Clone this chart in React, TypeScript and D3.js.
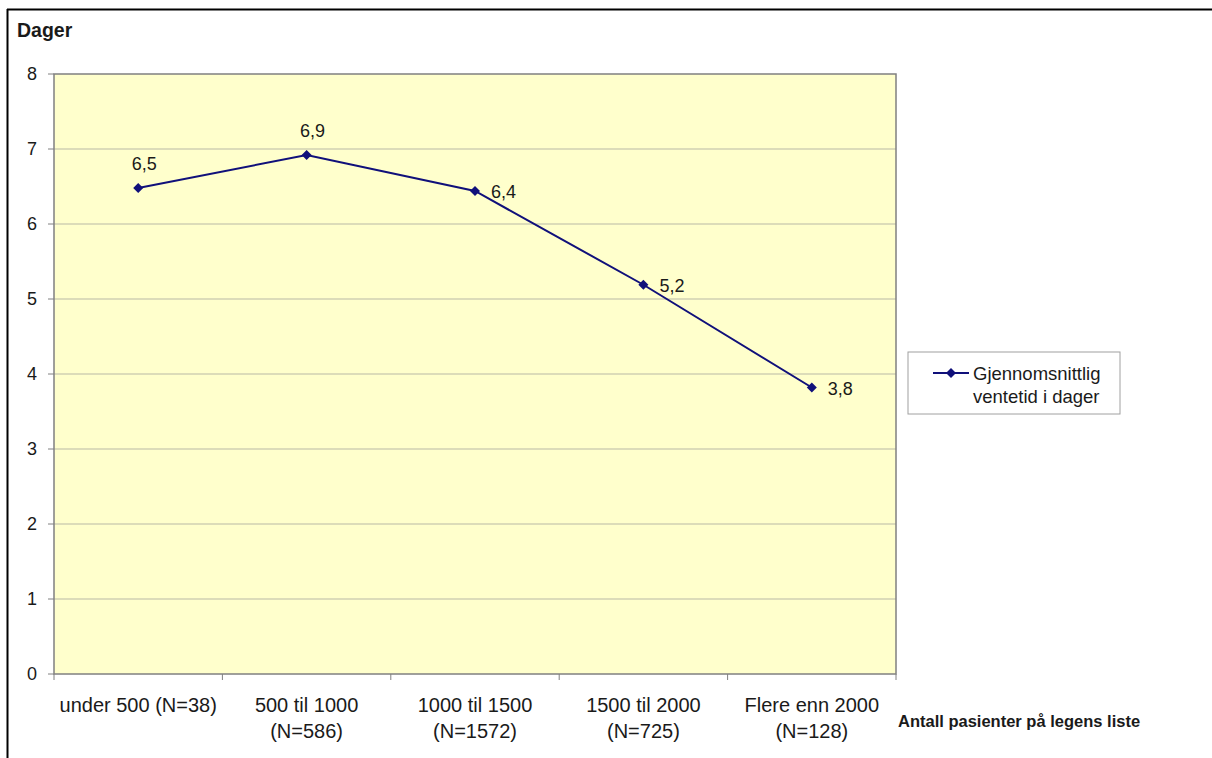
import React from 'react';
import * as d3 from 'd3';

// Gjennomsnittlig ventetid per listestørrelse
const categories = [
  ['under 500 (N=38)'],
  ['500 til 1000', '(N=586)'],
  ['1000 til 1500', '(N=1572)'],
  ['1500 til 2000', '(N=725)'],
  ['Flere enn 2000', '(N=128)'],
];
const waitDays = [6.48, 6.92, 6.44, 5.19, 3.82];
const labelAbove = [true, true, false, false, false];
const yTicks = [0, 1, 2, 3, 4, 5, 6, 7, 8];
const seriesName = ['Gjennomsnittlig', 'ventetid i dager'];

const FONT = '"Liberation Sans", Arial, sans-serif';
const TEXT = '#1a1a1a';
const NAVY = '#10107a';

const App = () => {
  const width = 1212;
  const height = 758;
  const plot = { left: 54, right: 896, top: 74, bottom: 674 };

  const x = d3
    .scaleBand<number>()
    .domain(d3.range(categories.length))
    .range([plot.left, plot.right]);

  const y = d3.scaleLinear().domain([0, 8]).range([plot.bottom, plot.top]);

  const cx = (i: number) => (x(i) as number) + x.bandwidth() / 2;

  const line = d3
    .line<number>()
    .x((d, i) => cx(i))
    .y(d => y(d));

  // Excel-aktig ruter-markør
  const diamond = 'M0,-5L5,0L0,5L-5,0Z';

  const fmt = (v: number) => v.toFixed(1).replace('.', ',');

  return (
    <svg
      width={width}
      height={height}
      style={{ position: 'absolute', left: 0, top: 0, background: '#fff' }}
      fontFamily={FONT}
    >
      {/* ramme */}
      <line x1={7} x2={width} y1={9.5} y2={9.5} stroke="#000" strokeWidth={2} />
      <line x1={7.5} x2={7.5} y1={9} y2={height} stroke="#000" strokeWidth={2} />

      <text x={17} y={37} fontSize={19.5} fontWeight="bold" fill={TEXT}>
        Dager
      </text>

      {/* plotområde */}
      <rect
        x={plot.left}
        y={plot.top}
        width={plot.right - plot.left}
        height={plot.bottom - plot.top}
        fill="#FFFFCC"
      />
      {yTicks.slice(1, -1).map(t => (
        <line
          key={t}
          x1={plot.left}
          x2={plot.right}
          y1={y(t)}
          y2={y(t)}
          stroke="#b9b9a6"
          strokeWidth={1}
        />
      ))}
      <rect
        x={plot.left}
        y={plot.top}
        width={plot.right - plot.left}
        height={plot.bottom - plot.top}
        fill="none"
        stroke="#808080"
        strokeWidth={1.5}
      />

      {/* y-akse */}
      {yTicks.map(t => (
        <g key={t}>
          <line x1={plot.left - 6} x2={plot.left} y1={y(t)} y2={y(t)} stroke="#808080" />
          <text
            x={37}
            y={y(t)}
            dy="0.35em"
            textAnchor="end"
            fontSize={18}
            fill={TEXT}
          >
            {t}
          </text>
        </g>
      ))}

      {/* x-akse */}
      {d3.range(categories.length + 1).map(i => {
        const xx = i < categories.length ? (x(i) as number) : plot.right;
        return (
          <line key={i} x1={xx} x2={xx} y1={plot.bottom} y2={plot.bottom + 6} stroke="#808080" />
        );
      })}
      {categories.map((lines, i) => (
        <text key={i} x={cx(i)} y={712} textAnchor="middle" fontSize={20} fill={TEXT}>
          {lines.map((l, j) => (
            <tspan key={j} x={cx(i)} dy={j === 0 ? 0 : 26}>
              {l}
            </tspan>
          ))}
        </text>
      ))}
      <text x={898} y={727} fontSize={16.5} fontWeight="bold" fill={TEXT}>
        Antall pasienter på legens liste
      </text>

      {/* serie */}
      <path d={line(waitDays) || ''} fill="none" stroke={NAVY} strokeWidth={2} />
      {waitDays.map((v, i) => (
        <path key={i} d={diamond} transform={`translate(${cx(i)},${y(v)})`} fill={NAVY} />
      ))}
      {waitDays.map((v, i) =>
        labelAbove[i] ? (
          <text
            key={i}
            x={cx(i) + 6}
            y={y(v) - 18}
            textAnchor="middle"
            fontSize={18}
            fill={TEXT}
          >
            {fmt(v)}
          </text>
        ) : (
          <text key={i} x={cx(i) + 16} y={y(v) + 1} dy="0.35em" fontSize={18} fill={TEXT}>
            {fmt(v)}
          </text>
        )
      )}

      {/* legende */}
      <rect x={908} y={352} width={212} height={62} fill="#fff" stroke="#a0a0a0" strokeWidth={1} />
      <line x1={933} x2={969} y1={373} y2={373} stroke={NAVY} strokeWidth={2} />
      <path d={diamond} transform="translate(951,373)" fill={NAVY} />
      <text x={973} y={380} fontSize={18.5} fill={TEXT}>
        {seriesName[0]}
      </text>
      <text x={973} y={403} fontSize={18.5} fill={TEXT}>
        {seriesName[1]}
      </text>
    </svg>
  );
};

export default App;
